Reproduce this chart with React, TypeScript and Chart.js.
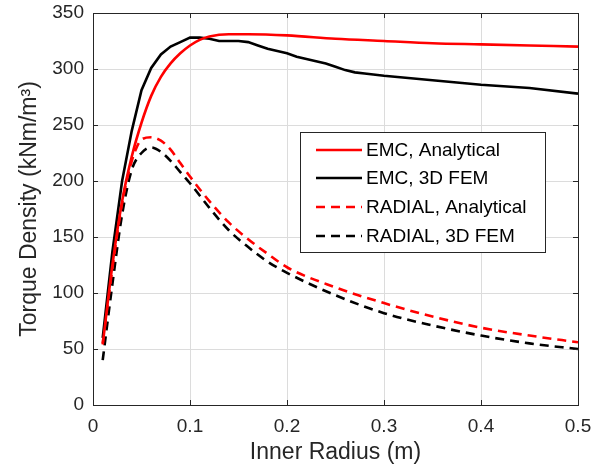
import React, { useEffect, useRef } from "react";
import { Chart, registerables } from "chart.js";

Chart.register(...registerables);

const emcAnaX = [0.01, 0.02, 0.03, 0.04, 0.05, 0.06, 0.07, 0.08, 0.09, 0.1, 0.11, 0.12, 0.14, 0.16, 0.2, 0.25, 0.3, 0.35, 0.4, 0.45, 0.5];
const emcAnaY = [54, 125, 182, 222, 252, 276, 293, 305, 314, 321, 326, 329, 331, 331, 330, 327, 325, 323, 322, 321, 320];

const emcFemX = [0.01, 0.02, 0.03, 0.04, 0.05, 0.06, 0.07, 0.08, 0.09, 0.1, 0.11, 0.12, 0.13, 0.14, 0.15, 0.16, 0.17, 0.18, 0.19, 0.2, 0.21, 0.22, 0.23, 0.24, 0.25, 0.26, 0.27, 0.28, 0.3, 0.35, 0.4, 0.45, 0.5];
const emcFemY = [60, 137, 200, 245, 281, 301, 313, 320, 324, 328, 328, 327, 325, 325, 325, 324, 321, 318, 316, 314, 311, 309, 307, 305, 302, 299, 297, 296, 294, 290, 286, 283, 278];

const radAnaX = [0.01, 0.02, 0.03, 0.04, 0.045, 0.05, 0.06, 0.07, 0.08, 0.09, 0.1, 0.12, 0.14, 0.16, 0.18, 0.2, 0.25, 0.3, 0.35, 0.4, 0.45, 0.5];
const radAnaY = [55, 122, 180, 218, 230, 237, 239, 236, 228, 216, 204, 182, 163, 148, 135, 123, 105, 91, 79, 69, 62, 56];

const radFemX = [0.01, 0.02, 0.03, 0.04, 0.05, 0.06, 0.07, 0.08, 0.09, 0.1, 0.12, 0.14, 0.16, 0.18, 0.2, 0.25, 0.3, 0.35, 0.4, 0.45, 0.5];
const radFemY = [40, 108, 170, 210, 225, 230, 226, 218, 208, 198, 176, 156, 141, 128, 118, 98, 82, 71, 62, 55, 50];

const seriesNames = ["EMC, Analytical", "EMC, 3D FEM", "RADIAL, Analytical", "RADIAL, 3D FEM"];
const xTitle = "Inner Radius (m)";
const yTitle = "Torque Density (kNm/m³)";

const FONT = "'Liberation Sans', Arial, Helvetica, sans-serif";

const toPts = (xs: number[], ys: number[]) => xs.map((x, i) => ({ x, y: ys[i] }));

const boxPlugin = {
  id: "matlabBox",
  afterDraw(chart: any) {
    const { ctx, chartArea: a, scales } = chart;
    ctx.save();
    ctx.strokeStyle = "#262626";
    ctx.lineWidth = 1;
    const tl = 5;
    ctx.beginPath();
    scales.x.ticks.forEach((t: any) => {
      const px = Math.round(scales.x.getPixelForValue(t.value)) + 0.5;
      ctx.moveTo(px, a.bottom);
      ctx.lineTo(px, a.bottom - tl);
      ctx.moveTo(px, a.top);
      ctx.lineTo(px, a.top + tl);
    });
    scales.y.ticks.forEach((t: any) => {
      const py = Math.round(scales.y.getPixelForValue(t.value)) + 0.5;
      ctx.moveTo(a.left, py);
      ctx.lineTo(a.left + tl, py);
      ctx.moveTo(a.right, py);
      ctx.lineTo(a.right - tl, py);
    });
    ctx.stroke();
    ctx.strokeRect(Math.round(a.left) + 0.5, Math.round(a.top) + 0.5, Math.round(a.right - a.left), Math.round(a.bottom - a.top));

    // legend
    const lx = a.left + 207;
    const ly = a.top + 119;
    const lw = 245;
    const lh = 120;
    ctx.fillStyle = "#ffffff";
    ctx.fillRect(lx, ly, lw, lh);
    ctx.strokeRect(Math.round(lx) + 0.5, Math.round(ly) + 0.5, lw, lh);
    const rows = [18, 46, 75, 104];
    chart.data.datasets.forEach((ds: any, i: number) => {
      const y = ly + rows[i];
      ctx.beginPath();
      ctx.strokeStyle = ds.borderColor;
      ctx.lineWidth = ds.borderWidth;
      ctx.setLineDash(ds.borderDash || []);
      ctx.moveTo(lx + 16, y);
      ctx.lineTo(lx + 62, y);
      ctx.stroke();
      ctx.setLineDash([]);
      ctx.fillStyle = "#000000";
      ctx.font = `19px ${FONT}`;
      ctx.textBaseline = "middle";
      ctx.textAlign = "left";
      ctx.fillText(ds.label, lx + 66, y + 1);
    });
    ctx.restore();
  },
};

export default function App() {
  const ref = useRef<HTMLCanvasElement>(null);
  useEffect(() => {
    if (!ref.current) return;
    const chart = new Chart(ref.current, {
      type: "line",
      data: {
        datasets: [
          { label: seriesNames[0], data: toPts(emcAnaX, emcAnaY), borderColor: "#ff0000", borderWidth: 2.6, pointRadius: 0, fill: false, cubicInterpolationMode: "monotone" },
          { label: seriesNames[1], data: toPts(emcFemX, emcFemY), borderColor: "#000000", borderWidth: 2.6, pointRadius: 0, fill: false, tension: 0 },
          { label: seriesNames[2], data: toPts(radAnaX, radAnaY), borderColor: "#ff0000", borderWidth: 2.6, borderDash: [9, 6], pointRadius: 0, fill: false, cubicInterpolationMode: "monotone" },
          { label: seriesNames[3], data: toPts(radFemX, radFemY), borderColor: "#000000", borderWidth: 2.6, borderDash: [9, 6], pointRadius: 0, fill: false, cubicInterpolationMode: "monotone" },
        ],
      },
      options: {
        animation: false,
        responsive: false,
        layout: { padding: { top: 13, right: 36, left: 0, bottom: 0 } },
        plugins: { legend: { display: false }, tooltip: { enabled: false } },
        scales: {
          x: {
            type: "linear",
            min: 0,
            max: 0.5,
            border: { display: false },
            grid: { color: "#dcdcdc", drawTicks: false },
            ticks: { stepSize: 0.1, padding: 10, color: "#262626", font: { family: FONT, size: 19 }, callback: (v: any) => (v === 0 ? "0" : String(Math.round(v * 10) / 10)) },
            title: { display: true, text: xTitle, color: "#262626", font: { family: FONT, size: 23 }, padding: { top: 0, bottom: 0 } },
            afterFit: (s: any) => { s.height = 61; s.paddingLeft = 0; s.paddingRight = 0; },
          },
          y: {
            min: 0,
            max: 350,
            border: { display: false },
            grid: { color: "#dcdcdc", drawTicks: false },
            ticks: { stepSize: 50, padding: 9, color: "#262626", font: { family: FONT, size: 19 } },
            title: { display: true, text: yTitle, color: "#262626", font: { family: FONT, size: 23 }, padding: { top: 16, bottom: 0 } },
            afterFit: (s: any) => { s.width = 93; s.paddingTop = 0; s.paddingBottom = 0; },
          },
        },
      },
      plugins: [boxPlugin],
    });
    return () => chart.destroy();
  }, []);
  return (
    <canvas
      ref={ref}
      width={614}
      height={466}
      style={{ display: "block", position: "absolute", left: 0, top: 0, background: "#ffffff" }}
    />
  );
}
